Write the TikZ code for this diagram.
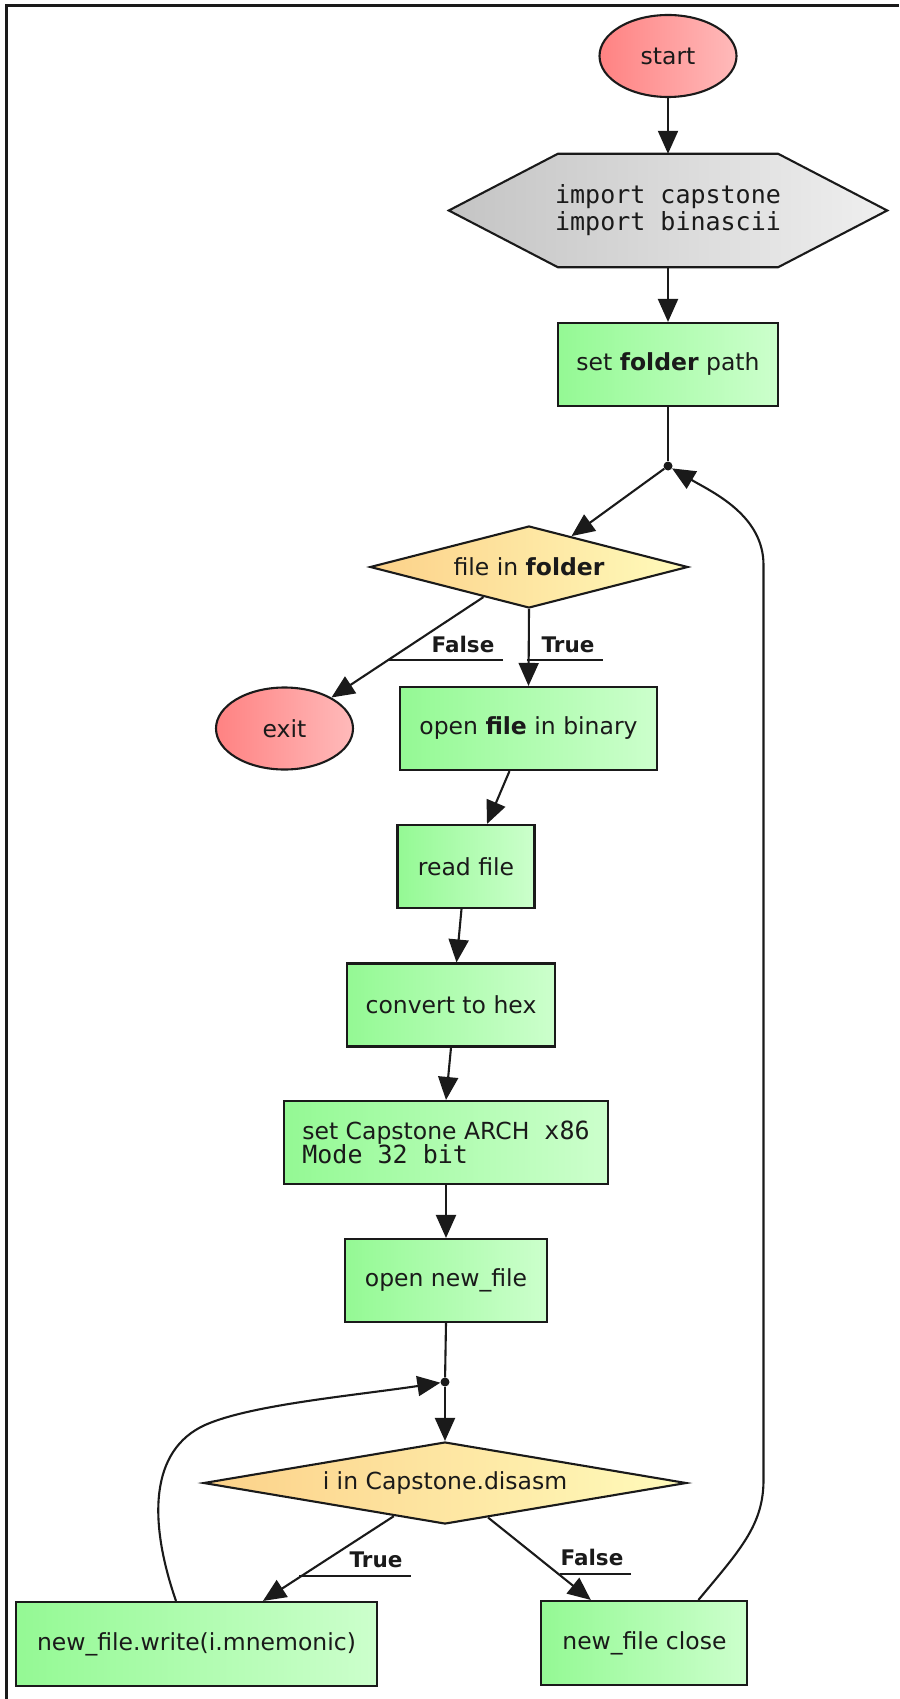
\documentclass[tikz,border=0pt]{standalone}
\usepackage{fontspec}
\setmainfont{DejaVu Sans}
\setmonofont{DejaVu Sans Mono}
\usetikzlibrary{shapes.geometric, arrows.meta, backgrounds}

\definecolor{redL}{HTML}{FF8282}
\definecolor{redR}{HTML}{FFBABA}
\definecolor{grayL}{HTML}{C4C4C4}
\definecolor{grayR}{HTML}{EFEFEF}
\definecolor{greenL}{HTML}{94F994}
\definecolor{greenR}{HTML}{CCFFCC}
\definecolor{orangeL}{HTML}{FCD189}
\definecolor{orangeR}{HTML}{FFFBBB}
\definecolor{ink}{HTML}{1A1A1A}

% monospaced inline text at the code size
\newcommand\monotext[1]{{\fontsize{25}{24}\selectfont\ttfamily #1}}

\begin{document}
\begin{tikzpicture}[x=1pt, y=-1pt,
  every node/.style={font=\fontsize{23.5}{27}\selectfont, text=ink},
  lw/.style={line width=2.1pt},
  terminal/.style={ellipse, draw=ink, lw, left color=redL, right color=redR,
    minimum width=137, minimum height=82, inner sep=0},
  procbox/.style={rectangle, draw=ink, lw, left color=greenL, right color=greenR,
    minimum height=83, inner sep=0},
  decision/.style={diamond, draw=ink, lw, left color=orangeL, right color=orangeR,
    inner sep=0},
  link/.style={draw=ink, lw, -{Triangle[length=23pt,width=20pt]}},
  plain/.style={draw=ink, lw},
  uline/.style={draw=ink, line width=1.6pt},
  junction/.style={circle, fill=ink, minimum size=9, inner sep=0},
  elabel/.style={font=\fontsize{21.5}{24}\selectfont\bfseries, inner sep=0, anchor=base},
]
\useasboundingbox (0,0) rectangle (899,1699);

% page frame (top and left rules)
\draw[ink, line width=2.4pt] (6.5,1699) -- (6.5,5.5) -- (899,5.5);

% ---- nodes ----
\node[terminal] (start) at (668,56) {start};

\node[minimum width=438, minimum height=113, inner sep=0, align=center,
      font=\ttfamily\fontsize{25}{27}\selectfont] (hx) at (668,210.5)
      {import capstone\\import binascii};
\begin{scope}[on background layer]
  \path[draw=ink, lw, left color=grayL, right color=grayR]
    (hx.west) -- ([xshift=109]hx.north west) -- ([xshift=-109]hx.north east)
    -- (hx.east) -- ([xshift=-109]hx.south east) -- ([xshift=109]hx.south west) -- cycle;
\end{scope}

\node[procbox, minimum width=220] (folder) at (668,364.5) {set \textbf{folder} path};
\node[junction] (j1) at (668,466) {};
\node[decision, minimum width=318, minimum height=82, aspect=3.9] (d1) at (529,567)
  {file in \textbf{folder}};
\node[terminal] (exit) at (284.5,728.5) {exit};
\node[procbox, minimum width=257] (obin) at (528.5,728.5) {open \textbf{file} in binary};
\node[procbox, minimum width=137] (rf) at (466,866.5) {read file};
\node[procbox, minimum width=208] (hex) at (451,1005) {convert to hex};
\node[procbox, minimum width=324, align=left, font=\fontsize{23.5}{24}\selectfont]
  (arch) at (446,1142.5) {set Capstone ARCH\monotext{ x86}\\\monotext{Mode 32 bit}};
\node[procbox, minimum width=202] (onf) at (446,1280.5) {open new\_file};
\node[junction] (j2) at (445,1382) {};
\node[decision, minimum width=483, minimum height=82, aspect=5.9] (d2) at (445,1483)
  {i in Capstone.disasm};
\node[procbox, minimum width=361, minimum height=84] (write) at (196.5,1644)
  {new\_file.write(i.mnemonic)};
\node[procbox, minimum width=206, minimum height=84] (close) at (644.4,1643)
  {new\_file close};

% ---- connectors ----
\draw[link] (start.south) -- (hx.north);
\draw[link] (hx.south) -- (folder.north);
\draw[plain] (folder.south) -- (j1);
\draw[link] (j1) -- (d1);
\draw[link] (d1) -- (exit);
\draw[link] (d1.south) -- (obin.north);
\draw[link] ([xshift=-19]obin.south) -- ([xshift=21]rf.north);
\draw[link] ([xshift=-4.5]rf.south) -- ([xshift=5.5]hex.north);
\draw[link] (hex.south) -- (arch.north);
\draw[link] (arch.south) -- (onf.north);
\draw[plain] (onf.south) -- (j2);
\draw[link] (j2) -- (d2.north);
\draw[link] (d2) -- (write);
\draw[link] (d2) -- (close);

% loop back from the inner loop body
\draw[link] ([xshift=-20.5]write.north)
  .. controls (148,1520) and (150,1450) .. (205,1425)
  .. controls (250,1405) and (350,1396) .. (j2);

% loop back to the outer folder loop
\draw[link] ([xshift=54]close.north)
  .. controls (740,1550) and (763.5,1525) .. (763.5,1480)
  -- (763.5,565)
  .. controls (763.5,515) and (712,492) .. (j1);

% ---- branch labels ----
\node[elabel] (lf1) at (463,652) {False};
\draw[uline] (lf1.base east) ++(8.5,8) -- ++(-114,0);
\node[elabel] (lt1) at (568,652) {True};
\draw[uline] (lt1.base east) ++(8,8) -- ++(-76,0);
\node[elabel] (lt2) at (376,1567) {True};
\draw[uline] (lt2.base east) ++(8,9) -- ++(-111.5,0);
\node[elabel] (lf2) at (592,1565) {False};
\draw[uline] (lf2.base east) ++(7.5,9) -- ++(-71,0);
\end{tikzpicture}
\end{document}
